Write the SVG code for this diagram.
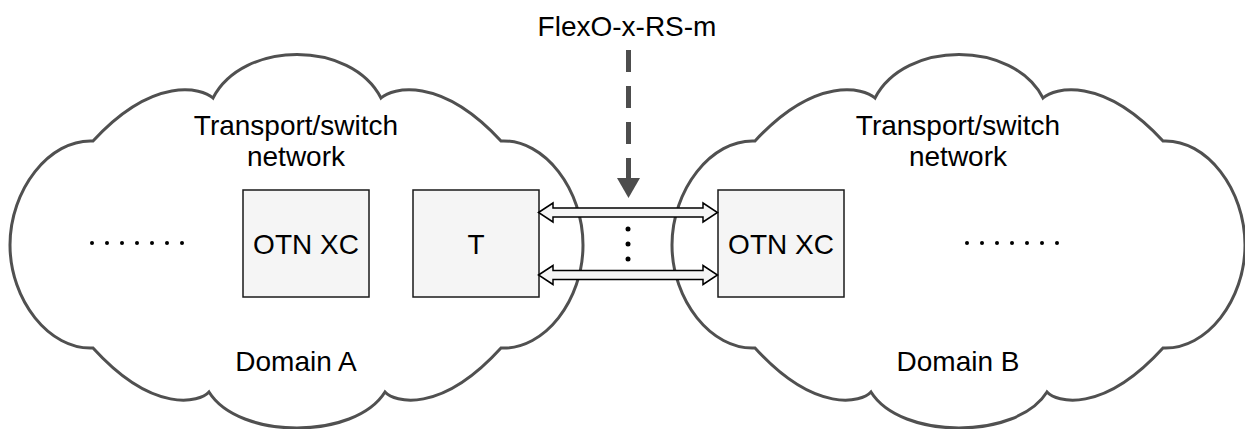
<svg xmlns="http://www.w3.org/2000/svg" width="1245" height="429" viewBox="0 0 1245 429">
  <defs>
    <style>
      .cloud { fill: #ffffff; stroke: #505050; stroke-width: 3; stroke-linejoin: miter; }
      .box { fill: #f5f5f5; stroke: #1a1a1a; stroke-width: 1.5; }
      .txt { font-family: "Liberation Sans", Arial, sans-serif; font-size: 28px; fill: #000000; text-anchor: middle; }
      .dot { fill: #000000; }
      .flex { fill: #f5f5f5; stroke: #000000; stroke-width: 1.5; stroke-linejoin: miter; }
      .dash { stroke: #4d4d4d; stroke-width: 5; stroke-dasharray: 22 14; fill: none; }
    </style>
    <path id="cloudShape" d="M213,98 C243,40 351,40 381,98 C392,88 440,75 501,141 C545,139 583,190 583,245 C583,300 545,350 501,348 C440,415 394,402 385,392 C355,440 239,440 209,392 C200,402 154,415 93,348 C49,350 10,300 10,245 C10,190 49,139 93,141 C154,75 202,88 213,98 Z"/>
  </defs>

  <g id="domain-a">
    <use href="#cloudShape" class="cloud"/>
    <text class="txt" x="296" y="135">Transport/switch</text>
    <text class="txt" x="296" y="166">network</text>
    <text class="txt" x="296" y="371">Domain A</text>
    <g id="dots-a">
      <circle class="dot" cx="92" cy="243" r="2"/>
      <circle class="dot" cx="107" cy="243" r="2"/>
      <circle class="dot" cx="122" cy="243" r="2"/>
      <circle class="dot" cx="137" cy="243" r="2"/>
      <circle class="dot" cx="152" cy="243" r="2"/>
      <circle class="dot" cx="167" cy="243" r="2"/>
      <circle class="dot" cx="182" cy="243" r="2"/>
    </g>
  </g>

  <g id="domain-b">
    <use href="#cloudShape" class="cloud" transform="translate(662,0)"/>
    <text class="txt" x="958" y="135">Transport/switch</text>
    <text class="txt" x="958" y="166">network</text>
    <text class="txt" x="958" y="371">Domain B</text>
    <g id="dots-b">
      <circle class="dot" cx="967" cy="243" r="2"/>
      <circle class="dot" cx="982" cy="243" r="2"/>
      <circle class="dot" cx="997" cy="243" r="2"/>
      <circle class="dot" cx="1012" cy="243" r="2"/>
      <circle class="dot" cx="1027" cy="243" r="2"/>
      <circle class="dot" cx="1042" cy="243" r="2"/>
      <circle class="dot" cx="1057" cy="243" r="2"/>
    </g>
  </g>

  <g id="node-otnxc-a">
    <rect class="box" x="243" y="190" width="126" height="107"/>
    <text class="txt" x="306" y="254">OTN XC</text>
  </g>

  <g id="node-t">
    <rect class="box" x="413" y="190" width="126" height="107"/>
    <text class="txt" x="476" y="254">T</text>
  </g>

  <g id="node-otnxc-b">
    <rect class="box" x="718" y="190" width="126" height="107"/>
    <text class="txt" x="781" y="254">OTN XC</text>
  </g>

  <g id="label-flexo">
    <text class="txt" x="627" y="36">FlexO-x-RS-m</text>
  </g>

  <g id="connectors">
    <path class="flex" d="M538.5,212.5 L553,203 L553,208 L703,208 L703,203 L717.5,212.5 L703,222 L703,217 L553,217 L553,222 Z"/>
    <path class="flex" d="M538.5,275 L553,265.5 L553,270.5 L703,270.5 L703,265.5 L717.5,275 L703,284.5 L703,279.5 L553,279.5 L553,284.5 Z"/>
    <g id="vdots">
      <circle class="dot" cx="628" cy="229" r="2.5"/>
      <circle class="dot" cx="628" cy="244" r="2.5"/>
      <circle class="dot" cx="628" cy="259" r="2.5"/>
    </g>
    <line class="dash" x1="628.5" y1="50" x2="628.5" y2="180"/>
    <polygon points="617,178 640,178 628.5,198" fill="#4d4d4d"/>
  </g>
</svg>
